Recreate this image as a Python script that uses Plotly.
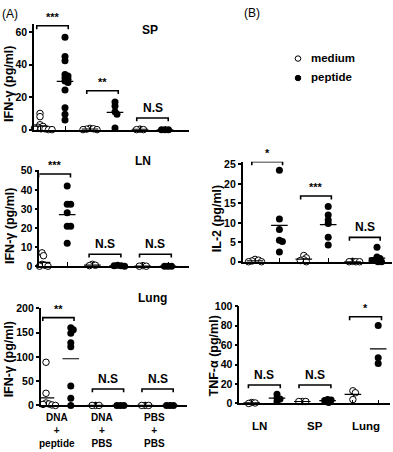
import plotly.graph_objects as go
import numpy as np

W, H = 393, 452

# ---------------- data ----------------
# (A) IFN-gamma, groups: DNA+peptide, DNA+PBS, PBS+PBS ; medium / peptide
SP_med_dnapep = [10, 8, 3, 2, 1.5, 1, 0.5, 0.5, 0, 0, 0, 0]
SP_pep_dnapep = [57, 45, 42.5, 34, 33, 32, 31, 30, 29, 24.5, 13.5, 9.5, 6]
SP_med_dnapbs = [0.8, 0.5, 0.3, 0, 0]
SP_pep_dnapbs = [17, 14.5, 11, 9.5, 1]
SP_med_pbspbs = [0.3, 0, 0]
SP_pep_pbspbs = [0, 0, 0]

LN_med_dnapep = [7, 5.5, 1, 0.5, 0, 0, 0]
LN_pep_dnapep = [42, 32.5, 32.5, 28, 21, 21, 12]
LN_med_dnapbs = [1, 0.5, 0.3]
LN_pep_dnapbs = [0.5, 0.3, 0.2, 0]
LN_med_pbspbs = [0.3, 0, 0]
LN_pep_pbspbs = [0, 0, 0]

LU_med_dnapep = [89, 25, 5, 3, 2, 1, 0, 0]
LU_pep_dnapep = [160, 156, 149, 129, 121, 40, 15, 0]
LU_med_dnapbs = [0, 0, 0]
LU_pep_dnapbs = [0, 0, 0]
LU_med_pbspbs = [0, 0, 0]
LU_pep_pbspbs = [0, 0, 0]

# (B) IL-2 and TNF-alpha, organs: LN, SP, Lung ; medium / peptide
IL2_med_LN = [0.6, 0.4, 0.2, 0, 0]
IL2_pep_LN = [23.5, 11, 8.3, 5.5, 5.2, 2.5]
IL2_med_SP = [1.6, 1, 0.5, 0.3, 0]
IL2_pep_SP = [14.2, 12, 10.7, 9.8, 6.3, 4.3]
IL2_med_LU = [0.1, 0, 0, 0]
IL2_pep_LU = [3.7, 1.2, 0.8, 0.5, 0.3, 0, 0]

TNF_med_LN = [1, 0.5, 0]
TNF_pep_LN = [9.5, 5.5, 4.5, 2]
TNF_med_SP = [2, 2, 2]
TNF_pep_SP = [4, 3.5, 3, 1]
TNF_med_LU = [13, 11, 4]
TNF_pep_LU = [80, 47, 41]

# significance brackets: level (data units) and label, one per group pair
SP_br_levels = [64, 24, 7.2]
SP_br_labels = ["***", "**", "N.S"]
LN_br_levels = [48.3, 6.3, 6.3]
LN_br_labels = ["***", "N.S", "N.S"]
LU_br_levels = [181, 34, 34]
LU_br_labels = ["**", "N.S", "N.S"]
IL2_br_levels = [25.7, 16.9, 6.25]
IL2_br_labels = ["*", "***", "N.S"]
TNF_br_levels = [19, 19, 89]
TNF_br_labels = ["N.S", "N.S", "*"]

A_labels = ["DNA<br>+<br>peptide", "DNA<br>+<br>PBS", "PBS<br>+<br>PBS"]
B_labels = ["LN", "SP", "Lung"]
legend_labels = ["medium", "peptide"]

FONT = "Liberation Sans, Arial, sans-serif"

# ---------------- geometry (pixels) ----------------
# (axis left, axis right, first position, step, y bottom, y top, y max)
panels = [
    dict(groups=[SP_med_dnapep, SP_pep_dnapep, SP_med_dnapbs, SP_pep_dnapbs, SP_med_pbspbs, SP_pep_pbspbs],
         lv=SP_br_levels, lb=SP_br_labels, dtick=20, title="IFN-γ (pg/ml)",
         geo=(34, 189, 40, 25, 127, 18, 65.4), tpos=(9, 80), tag=("SP", 150, 25)),
    dict(groups=[LN_med_dnapep, LN_pep_dnapep, LN_med_dnapbs, LN_pep_dnapbs, LN_med_pbspbs, LN_pep_pbspbs],
         lv=LN_br_levels, lb=LN_br_labels, dtick=10, title="IFN-γ (pg/ml)",
         geo=(39.3, 189, 42, 25.2, 267.3, 168, 50.66), tpos=(10, 226), tag=("LN", 143, 159)),
    dict(groups=[LU_med_dnapep, LU_pep_dnapep, LU_med_dnapbs, LU_pep_dnapbs, LU_med_pbspbs, LU_pep_pbspbs],
         lv=LU_br_levels, lb=LU_br_labels, dtick=50, title="IFN-γ (pg/ml)",
         geo=(40.7, 187, 46, 24.8, 410.3, 310.5, 200.4), tpos=(9, 363), tag=("Lung", 152, 300)),
    dict(groups=[IL2_med_LN, IL2_pep_LN, IL2_med_SP, IL2_pep_SP, IL2_med_LU, IL2_pep_LU],
         lv=IL2_br_levels, lb=IL2_br_labels, dtick=5, title="IL-2 (pg/ml)",
         geo=(242.7, 391.7, 255, 24.4, 262.7, 160, 25.7), tpos=(217, 219), tag=None),
    dict(groups=[TNF_med_LN, TNF_pep_LN, TNF_med_SP, TNF_pep_SP, TNF_med_LU, TNF_pep_LU],
         lv=TNF_br_levels, lb=TNF_br_labels, dtick=20, title="TNF-α (pg/ml)",
         geo=(239.3, 390, 251.7, 25.3, 408.3, 308, 100.3), tpos=(214, 360), tag=None),
]


def swarm(values, pxy, pxx, d=6.3, ratio=0.5):
    placed = []
    offs = [0.0] * len(values)
    order = sorted(range(len(values)), key=lambda i: -values[i])
    cands = [0.0]
    for k in range(1, 80):
        cands += [k * 0.5, -k * 0.5]
    for i in order:
        yp = values[i] * pxy
        for c in cands:
            if all((c - px) ** 2 + (yp - py) ** 2 >= (ratio * d) ** 2 for px, py in placed):
                placed.append((c, yp))
                offs[i] = c / pxx
                break
    return offs


fig = go.Figure()
annotations = []
shapes = []

for n, p in enumerate(panels, start=1):
    x0, x1, pos0, step, yb, yt, ymax = p["geo"]
    pxy = (yb - yt) / ymax
    xr = [(x0 - pos0) / step, (x1 - pos0) / step]
    xa = "x" if n == 1 else f"x{n}"
    ya = "y" if n == 1 else f"y{n}"
    for j, vals in enumerate(p["groups"]):
        offs = swarm(vals, pxy, step)
        med = (j % 2 == 0)
        fig.add_trace(go.Scatter(
            x=[j + o for o in offs], y=vals, mode="markers", xaxis=xa, yaxis=ya,
            cliponaxis=False, showlegend=False, hoverinfo="skip",
            marker=dict(symbol="circle", size=6.5 if med else 7,
                        color="white" if med else "black",
                        line=dict(color="black", width=1 if med else 0))))
        m = float(np.mean(vals))
        hw = 8.3 / step
        fig.add_trace(go.Scatter(
            x=[j - hw, j + hw], y=[m, m], mode="lines", xaxis=xa, yaxis=ya,
            cliponaxis=False, showlegend=False, hoverinfo="skip",
            line=dict(color="black", width=1.2)))
    tick = 3.5 / pxy
    for k, (lvl, lab) in enumerate(zip(p["lv"], p["lb"])):
        a, b = 2 * k - 0.13, 2 * k + 1 + 0.13
        fig.add_trace(go.Scatter(
            x=[a, a, b, b], y=[lvl - tick, lvl, lvl, lvl - tick], mode="lines",
            xaxis=xa, yaxis=ya, cliponaxis=False, showlegend=False, hoverinfo="skip",
            line=dict(color="black", width=1.6)))
        star = lab.startswith("*")
        annotations.append(dict(
            x=(a + b) / 2, y=lvl, xref=xa, yref=ya, text=lab, showarrow=False,
            yanchor="bottom", yshift=1,
            font=dict(family=FONT, size=11 if star else 12, color="black", weight="bold")))
    ax = dict(domain=[x0 / W, x1 / W], range=xr, showline=True, linecolor="black", linewidth=1.6,
              showgrid=False, zeroline=False, showticklabels=False, ticks="",
              minor=dict(tickvals=list(range(6)), ticks="inside", ticklen=4, tickwidth=1.3, tickcolor="black"),
              anchor=ya, fixedrange=True)
    ay = dict(domain=[1 - yb / H, 1 - yt / H], range=[0, ymax], showline=True, linecolor="black",
              linewidth=1.6, showgrid=False, zeroline=False, tickmode="linear", tick0=0, dtick=p["dtick"],
              ticks="outside", ticklen=3, tickwidth=1.5, tickcolor="black",
              tickfont=dict(family=FONT, size=10.5, color="black", weight="bold"),
              anchor=xa, fixedrange=True)
    fig.update_layout({("xaxis" if n == 1 else f"xaxis{n}"): ax, ("yaxis" if n == 1 else f"yaxis{n}"): ay})
    tx, ty = p["tpos"]
    annotations.append(dict(x=tx / W, y=1 - ty / H, xref="paper", yref="paper", text=p["title"],
                            showarrow=False, textangle=-90, xanchor="center", yanchor="middle",
                            font=dict(family=FONT, size=12.5, color="black", weight="bold")))
    if p["tag"]:
        t, gx, gy = p["tag"]
        annotations.append(dict(x=gx / W, y=1 - gy / H, xref="paper", yref="paper", text=t,
                                showarrow=False, xanchor="center", yanchor="middle",
                                font=dict(family=FONT, size=12, color="black", weight="bold")))

# x category labels, panel (A) bottom
for lab, cx in zip(A_labels, [0.43, 2.25, 4.36]):
    annotations.append(dict(x=cx, y=1 - 436 / H, xref="x3", yref="paper", text=lab, showarrow=False,
                            xanchor="center", yanchor="middle", borderpad=0,
                            font=dict(family=FONT, size=10, color="black", weight="bold")))
# x category labels, panel (B) bottom
for lab, cx in zip(B_labels, [0.3, 2.5, 4.5]):
    annotations.append(dict(x=cx, y=1 - 431.7 / H, xref="x5", yref="paper", text=lab, showarrow=False,
                            xanchor="center", yanchor="middle",
                            font=dict(family=FONT, size=11.5, color="black", weight="bold")))

# panel letters
annotations.append(dict(x=0 / W, y=1 - 8 / H, xref="paper", yref="paper", text="(A)", showarrow=False,
                        xanchor="left", yanchor="middle", font=dict(family=FONT, size=12, color="black")))
annotations.append(dict(x=242 / W, y=1 - 7 / H, xref="paper", yref="paper", text="(B)", showarrow=False,
                        xanchor="left", yanchor="middle", font=dict(family=FONT, size=12, color="black")))

# legend
for k, (lab, ly) in enumerate(zip(legend_labels, [54, 74])):
    r = 2.8
    shapes.append(dict(type="circle", xref="paper", yref="paper",
                       x0=(298 - r) / W, x1=(298 + r) / W, y0=1 - (ly + r) / H, y1=1 - (ly - r) / H,
                       fillcolor="white" if k == 0 else "black", line=dict(color="black", width=1)))
    annotations.append(dict(x=309 / W, y=1 - (ly - 1) / H, xref="paper", yref="paper", text=lab,
                            showarrow=False, xanchor="left", yanchor="middle",
                            font=dict(family=FONT, size=11.5, color="black", weight="bold")))

fig.update_layout(width=W, height=H, margin=dict(l=0, r=0, t=0, b=0), autosize=False,
                  paper_bgcolor="white", plot_bgcolor="white", showlegend=False,
                  annotations=annotations, shapes=shapes)

fig.write_html("out.html", config={"displayModeBar": False},
               post_script="document.body.style.margin='0px';document.body.style.overflow='hidden';")
